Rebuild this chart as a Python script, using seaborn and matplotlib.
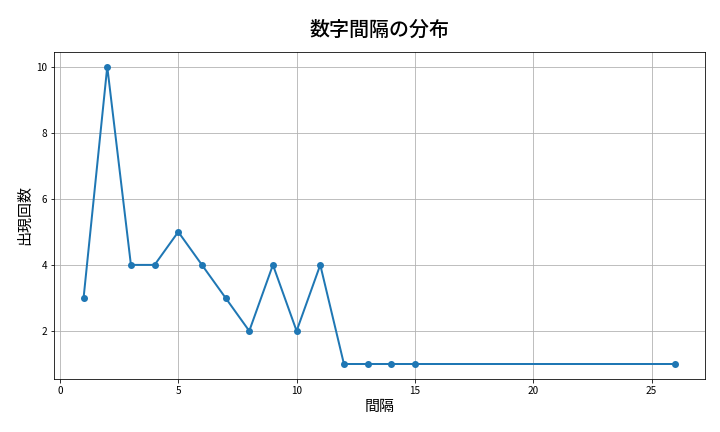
import numpy as np
import pandas as pd
import matplotlib.pyplot as plt
import seaborn as sns

# gap between numbers and how often it appears
gaps = [1, 2, 3, 4, 5, 6, 7, 8, 9, 10, 11, 12, 13, 14, 15, 26]
counts = [3, 10, 4, 4, 5, 4, 3, 2, 4, 2, 4, 1, 1, 1, 1, 1]

df = pd.DataFrame({'gap': gaps, 'count': counts})

plt.rcParams['font.family'] = ['Noto Sans CJK JP', 'DejaVu Sans']

fig, ax = plt.subplots(figsize=(10, 6), dpi=72)
sns.lineplot(data=df, x='gap', y='count', marker='o', color='#1f77b4',
             linewidth=2, markersize=7, markeredgewidth=0, ax=ax)
ax.set_title('数字間隔の分布', fontsize=20, fontweight='medium', pad=16)
ax.set_xlabel('間隔', fontsize=15)
ax.set_ylabel('出現回数', fontsize=15)
ax.tick_params(labelsize=10)
ax.grid(True, color='#b0b0b0', linewidth=0.8)

fig.subplots_adjust(left=0.075, right=0.979, top=0.88, bottom=0.123)
plt.savefig('out.png')
